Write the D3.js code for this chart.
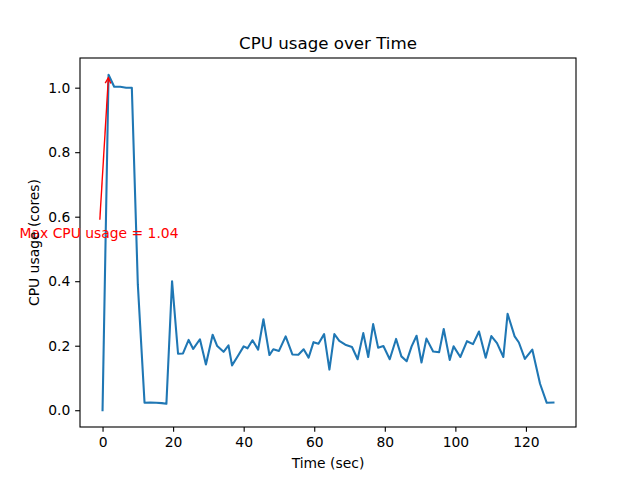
<!DOCTYPE html>
<html>
<head>
<meta charset="utf-8">
<script src="https://cdn.jsdelivr.net/npm/d3@7"></script>
<style>
  html, body { margin: 0; padding: 0; background: #fff; }
  text { font-family: "DejaVu Sans", sans-serif; }
</style>
</head>
<body>
<svg id="chart" width="640" height="480"></svg>
<script>
// ---- data ----
const times = [0, 1.7, 3.3, 5.0, 6.7, 8.3, 10.0, 11.9, 13.5, 15.2, 16.8, 18.1, 19.7, 21.4, 22.8, 24.4, 25.7, 27.6, 29.3, 31.2,
  32.5, 34.3, 35.7, 36.7, 38.4, 40.0, 41.1, 42.5, 44.1, 45.6, 47.3, 48.4, 50.0, 51.9, 53.8, 55.5, 57.0, 58.4, 59.8, 61.2,
  62.8, 64.3, 65.7, 67.1, 68.8, 70.7, 72.3, 73.9, 75.3, 76.7, 78.1, 79.6, 81.4, 83.2, 84.7, 86.2, 87.6, 89.0, 90.4, 91.8,
  93.7, 95.4, 96.7, 98.4, 99.5, 101.4, 103.3, 105.0, 106.7, 108.6, 110.2, 111.8, 113.6, 114.8, 116.8, 118.0, 119.7, 121.8,
  124.0, 125.9, 127.8];
const cpuValues = [0.0, 1.04, 1.003, 1.003, 1.0, 1.0, 0.39, 0.023, 0.024, 0.023, 0.022, 0.020, 0.40, 0.175, 0.176, 0.218, 0.190, 0.220, 0.142, 0.234,
  0.199, 0.181, 0.201, 0.139, 0.169, 0.198, 0.192, 0.217, 0.188, 0.282, 0.171, 0.189, 0.184, 0.229, 0.173, 0.172, 0.189, 0.163, 0.211, 0.206,
  0.236, 0.126, 0.236, 0.215, 0.203, 0.196, 0.158, 0.239, 0.165, 0.267, 0.194, 0.199, 0.158, 0.221, 0.167, 0.152, 0.198, 0.231, 0.148, 0.222,
  0.182, 0.180, 0.252, 0.156, 0.198, 0.165, 0.214, 0.205, 0.244, 0.163, 0.230, 0.208, 0.165, 0.299, 0.229, 0.210, 0.159, 0.188,
  0.082, 0.023, 0.024];
const xTicks = [0, 20, 40, 60, 80, 100, 120];
const yTicks = [0.0, 0.2, 0.4, 0.6, 0.8, 1.0];
const titleText = "CPU usage over Time";
const xLabel = "Time (sec)";
const yLabel = "CPU usage (cores)";
const annotTextPos = [-1.0, 0.55]; // data coords of annotation text

// ---- layout ----
const svg = d3.select("#chart");
const L = 80, R = 576, T = 58, B = 427;
const pt = 100 / 72;
const data = times.map((t, i) => ({ t, v: cpuValues[i] }));

const tMin = d3.min(times), tMax = d3.max(times);
const vMin = d3.min(cpuValues), vMax = d3.max(cpuValues);
const tPad = (tMax - tMin) * 0.05, vPad = (vMax - vMin) * 0.05;
const x = d3.scaleLinear().domain([tMin - tPad, tMax + tPad]).range([L, R]);
const y = d3.scaleLinear().domain([vMin - vPad, vMax + vPad]).range([B, T]);

const tickLen = 3.5 * pt;
const fs = 10 * pt;

// axes
const xAxis = svg.append("g").attr("transform", `translate(0,${B})`)
  .call(d3.axisBottom(x).tickValues(xTicks).tickFormat(d3.format("d")).tickSize(tickLen).tickPadding(3.5 * pt));
const yAxis = svg.append("g").attr("transform", `translate(${L},0)`)
  .call(d3.axisLeft(y).tickValues(yTicks).tickFormat(d3.format(".1f")).tickSize(tickLen).tickPadding(3.5 * pt));
[xAxis, yAxis].forEach(g => {
  g.select(".domain").remove();
  g.selectAll(".tick line").attr("stroke", "#000").attr("stroke-width", 0.8 * pt);
  g.selectAll(".tick text").attr("font-size", fs).attr("fill", "#000").attr("font-family", "DejaVu Sans");
});

// line
svg.append("path").datum(data)
  .attr("fill", "none").attr("stroke", "#1f77b4").attr("stroke-width", 1.5 * pt)
  .attr("stroke-linejoin", "round").attr("stroke-linecap", "square")
  .attr("d", d3.line().x(d => x(d.t)).y(d => y(d.v)));

// frame
svg.append("rect").attr("x", L).attr("y", T).attr("width", R - L).attr("height", B - T)
  .attr("fill", "none").attr("stroke", "#000").attr("stroke-width", 0.8 * pt);

// annotation
const maxIdx = d3.maxIndex(cpuValues);
const px = x(times[maxIdx]), py = y(cpuValues[maxIdx]);
const tx = x(annotTextPos[0]), ty = y(annotTextPos[1]);
svg.append("text").attr("x", tx).attr("y", ty).attr("text-anchor", "middle")
  .attr("dominant-baseline", "central").attr("font-size", fs).attr("fill", "red")
  .text("Max CPU usage = " + vMax.toFixed(2));
const sx = tx + 0.8, sy = ty - 13;
const ang = Math.atan2(py - sy, px - sx);
const ex = px - Math.cos(ang) * 3, ey = py - Math.sin(ang) * 3;
svg.append("line").attr("x1", sx).attr("y1", sy).attr("x2", ex).attr("y2", ey)
  .attr("stroke", "red").attr("stroke-width", pt);
const hl = 5.5, hw = 2.8;
const bx = ex - Math.cos(ang) * hl, by = ey - Math.sin(ang) * hl;
const nx = -Math.sin(ang), ny = Math.cos(ang);
svg.append("path")
  .attr("d", `M${bx + nx * hw},${by + ny * hw}L${ex},${ey}L${bx - nx * hw},${by - ny * hw}`)
  .attr("fill", "none").attr("stroke", "red").attr("stroke-width", pt);

// title and labels
svg.append("text").attr("x", (L + R) / 2).attr("y", 49).attr("text-anchor", "middle")
  .attr("font-size", 12 * pt).attr("fill", "#000").text(titleText);
svg.append("text").attr("x", (L + R) / 2).attr("y", 468).attr("text-anchor", "middle")
  .attr("font-size", fs).attr("fill", "#000").text(xLabel);
svg.append("text").attr("transform", `translate(39,${(T + B) / 2}) rotate(-90)`).attr("text-anchor", "middle")
  .attr("font-size", fs).attr("fill", "#000").text(yLabel);
</script>
</body>
</html>
